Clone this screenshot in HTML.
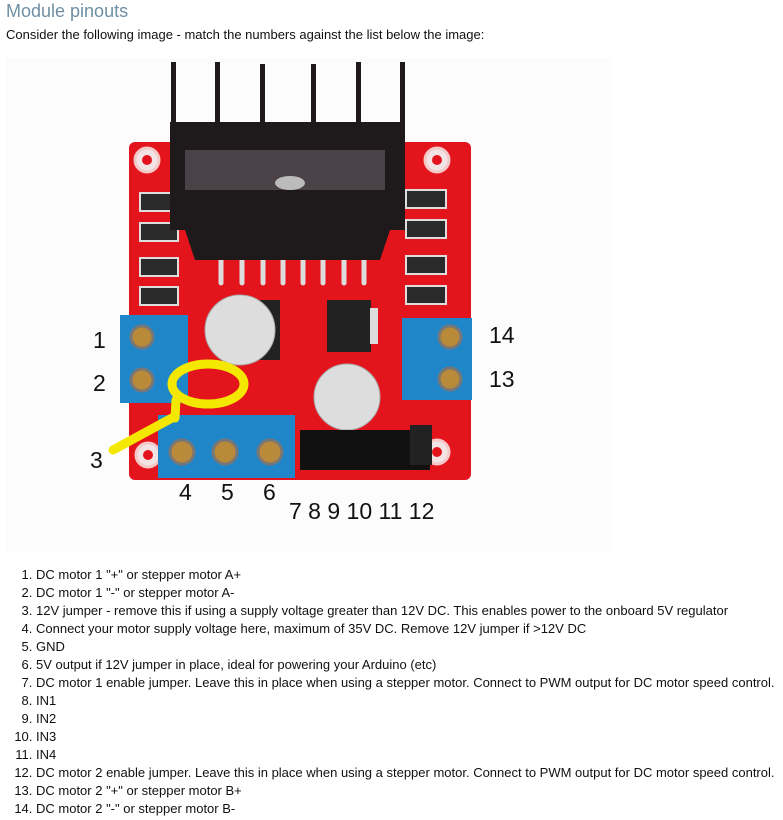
<!DOCTYPE html>
<html><head><meta charset="utf-8"><style>
body{margin:0;width:783px;height:820px;background:#fff;font-family:"Liberation Sans",Arial,sans-serif;position:relative;overflow:hidden}
h2{position:absolute;left:6px;top:1px;margin:0;font-weight:normal;font-size:18px;color:#6f8fa3}
p{position:absolute;left:6px;top:27px;margin:0;font-size:13px;color:#111}
ol{position:absolute;left:0;top:566px;margin:0;padding-left:36px;font-size:13px;color:#111;line-height:18px}
svg{position:absolute;left:0;top:0}
</style></head><body>
<h2>Module pinouts</h2>
<p>Consider the following image - match the numbers against the list below the image:</p>
<svg width="783" height="560" viewBox="0 0 783 560">
<rect x="6" y="58" width="606" height="494" fill="#fcfcfc"/>
<rect x="129" y="142" width="342" height="338" rx="6" fill="#e3141c"/>
<g fill="#f2e4e4" stroke="#f5c8c8" stroke-width="3">
<circle cx="147" cy="160" r="12"/><circle cx="437" cy="160" r="12"/><circle cx="148" cy="455" r="12"/><circle cx="437" cy="452" r="12"/></g>
<g fill="#e3141c"><circle cx="147" cy="160" r="5"/><circle cx="437" cy="160" r="5"/><circle cx="148" cy="455" r="5"/><circle cx="437" cy="452" r="5"/></g>
<g fill="#2a2a2a" stroke="#ddd" stroke-width="2">
<rect x="140" y="193" width="38" height="18"/><rect x="140" y="223" width="38" height="18"/><rect x="140" y="258" width="38" height="18"/><rect x="140" y="287" width="38" height="18"/>
<rect x="406" y="190" width="40" height="18"/><rect x="406" y="220" width="40" height="18"/><rect x="406" y="256" width="40" height="18"/><rect x="406" y="286" width="40" height="18"/>
</g>
<g stroke="#ddd" stroke-width="5" stroke-linecap="round">
<line x1="221" y1="235" x2="221" y2="283"/><line x1="242" y1="235" x2="242" y2="283"/><line x1="263" y1="235" x2="263" y2="283"/><line x1="283" y1="235" x2="283" y2="283"/><line x1="303" y1="235" x2="303" y2="283"/><line x1="323" y1="235" x2="323" y2="283"/><line x1="344" y1="235" x2="344" y2="283"/><line x1="364" y1="235" x2="364" y2="283"/></g>
<g fill="#1e1a1c">
<rect x="170" y="122" width="235" height="108"/>
<polygon points="185,230 390,230 380,260 195,260"/>
<rect x="171" y="62" width="5" height="70"/><rect x="215" y="62" width="5" height="70"/><rect x="260" y="64" width="5" height="70"/><rect x="311" y="64" width="5" height="70"/><rect x="356" y="62" width="5" height="70"/><rect x="400" y="62" width="5" height="70"/>
</g>
<rect x="185" y="150" width="200" height="40" fill="#4a4246"/>
<ellipse cx="290" cy="183" rx="15" ry="7" fill="#bbb"/>
<rect x="327" y="300" width="44" height="52" fill="#222"/>
<rect x="370" y="308" width="8" height="36" fill="#ddd"/>
<rect x="230" y="300" width="50" height="60" fill="#222"/>
<circle cx="240" cy="330" r="35" fill="#ddd" stroke="#aaa"/>
<circle cx="347" cy="397" r="33" fill="#ddd" stroke="#aaa"/>
<rect x="300" y="430" width="130" height="40" fill="#111"/>
<rect x="410" y="425" width="22" height="40" fill="#222"/>
<g fill="#1f86c9">
<rect x="120" y="315" width="68" height="88"/><rect x="402" y="318" width="70" height="82"/><rect x="158" y="415" width="137" height="63"/></g>
<g fill="#b98a3a" stroke="#777" stroke-width="3">
<circle cx="142" cy="337" r="11"/><circle cx="142" cy="380" r="11"/><circle cx="450" cy="337" r="11"/><circle cx="450" cy="379" r="11"/>
<circle cx="182" cy="452" r="12"/><circle cx="225" cy="452" r="12"/><circle cx="270" cy="452" r="12"/></g>
<g fill="none" stroke="#f5e800" stroke-width="9" stroke-linecap="round">
<ellipse cx="208" cy="384" rx="36" ry="20"/>
<path d="M113 450 L172 418 M175 418 L176 400"/></g>
<g font-family="Liberation Sans,Arial,sans-serif" font-size="23" fill="#111">
<text x="93" y="348">1</text><text x="93" y="391">2</text><text x="90" y="468">3</text>
<text x="179" y="500">4</text><text x="221" y="500">5</text><text x="263" y="500">6</text>
<text x="289" y="519">7 8 9 10 11 12</text>
<text x="489" y="343">14</text><text x="489" y="387">13</text></g>
</svg>
<ol>
<li>DC motor 1 "+" or stepper motor A+</li>
<li>DC motor 1 "-" or stepper motor A-</li>
<li>12V jumper - remove this if using a supply voltage greater than 12V DC. This enables power to the onboard 5V regulator</li>
<li>Connect your motor supply voltage here, maximum of 35V DC. Remove 12V jumper if &gt;12V DC</li>
<li>GND</li>
<li>5V output if 12V jumper in place, ideal for powering your Arduino (etc)</li>
<li>DC motor 1 enable jumper. Leave this in place when using a stepper motor. Connect to PWM output for DC motor speed control.</li>
<li>IN1</li>
<li>IN2</li>
<li>IN3</li>
<li>IN4</li>
<li>DC motor 2 enable jumper. Leave this in place when using a stepper motor. Connect to PWM output for DC motor speed control.</li>
<li>DC motor 2 "+" or stepper motor B+</li>
<li>DC motor 2 "-" or stepper motor B-</li>
</ol>
</body></html>
